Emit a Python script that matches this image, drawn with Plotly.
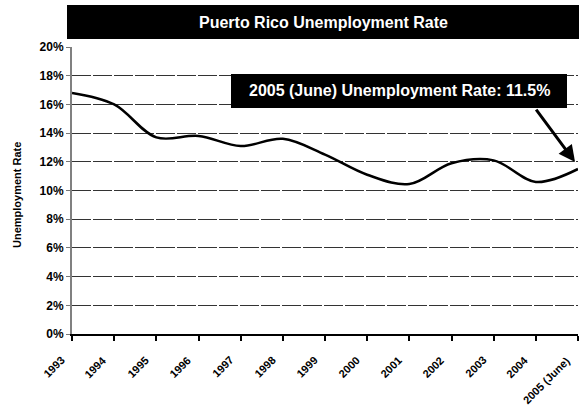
import plotly.graph_objects as go

# Puerto Rico unemployment rate, annual values (%)
years = ["1993", "1994", "1995", "1996", "1997", "1998", "1999",
         "2000", "2001", "2002", "2003", "2004", "2005 (June)"]
rates = [16.8, 16.0, 13.7, 13.8, 13.1, 13.6, 12.5,
         11.1, 10.45, 11.9, 12.1, 10.6, 11.5]

y_ticks = [0, 2, 4, 6, 8, 10, 12, 14, 16, 18, 20]
y_tick_labels = [f"{v}%" for v in y_ticks]

title_text = "Puerto Rico Unemployment Rate"
callout_text = f"{years[-1]} Unemployment Rate: {rates[-1]}%"

FONT = "Arial, Liberation Sans, sans-serif"

W, H = 581, 407
L, R, T, B = 72, 3, 47, 73
plot_w = W - L - R
plot_h = H - T - B


def px_x(p):
    return (p - L) / plot_w


def px_y(p):
    return (H - B - p) / plot_h


fig = go.Figure()
fig.add_trace(go.Scatter(
    x=list(range(len(years))),
    y=rates,
    mode="lines",
    line=dict(color="black", width=2.5, shape="spline", smoothing=1.0),
    hoverinfo="skip",
    showlegend=False,
))

# slanted category labels, top-right corner tucked just under each tick
x_label_annotations = [
    dict(text=f"<b>{name}</b>", xref="x", yref="paper",
         x=i, y=0, xshift=-4, yshift=-19,
         xanchor="right", yanchor="top", textangle=-45,
         showarrow=False, borderpad=0,
         font=dict(size=11, color="black", family=FONT))
    for i, name in enumerate(years)
]

fig.update_layout(
    width=W, height=H,
    margin=dict(l=L, r=R, t=T, b=B, autoexpand=False),
    paper_bgcolor="white",
    plot_bgcolor="white",
    font=dict(family=FONT, color="black"),
    xaxis=dict(
        range=[0, len(years) - 1],
        tickmode="array",
        tickvals=list(range(len(years))),
        showticklabels=False,
        ticks="outside", ticklen=5, tickcolor="black", tickwidth=1.5,
        showline=True, linecolor="black", linewidth=2,
        showgrid=False, zeroline=False,
        automargin=False,
    ),
    yaxis=dict(
        range=[0, 20],
        tickmode="array",
        tickvals=y_ticks,
        ticktext=y_tick_labels,
        tickfont=dict(size=12, family=FONT, weight="bold"),
        ticks="outside", ticklen=4, tickcolor="#777777", tickwidth=1,
        showline=True, linecolor="#808080", linewidth=2,
        showgrid=True, gridcolor="#333333", gridwidth=1.3,
        griddash="19px,2px",
        zeroline=False,
        automargin=False,
    ),
    shapes=[
        # title banner
        dict(type="rect", xref="paper", yref="paper",
             x0=px_x(67), x1=px_x(579), y0=px_y(39), y1=px_y(5),
             fillcolor="black", line=dict(width=0), layer="above"),
        # callout box
        dict(type="rect", xref="paper", yref="paper",
             x0=px_x(231), x1=px_x(567), y0=px_y(108), y1=px_y(74),
             fillcolor="black", line=dict(width=0), layer="above"),
    ],
    annotations=[
        dict(text=f"<b>{title_text}</b>", xref="paper", yref="paper",
             x=px_x(323), y=px_y(22), xanchor="center", yanchor="middle",
             showarrow=False, font=dict(size=16, color="white", family=FONT)),
        dict(text=f"<b>{callout_text}</b>", xref="paper", yref="paper",
             x=px_x(399), y=px_y(91), xanchor="center", yanchor="middle",
             showarrow=False, font=dict(size=16, color="white", family=FONT)),
        # arrow from the callout box to the last data point
        dict(text="", xref="x", yref="y",
             x=11.93, y=11.98, ax=-40, ay=-54, axref="pixel", ayref="pixel",
             showarrow=True, arrowhead=2, arrowsize=1.1, arrowwidth=3,
             arrowcolor="black"),
        dict(text="<b>Unemployment Rate</b>", xref="paper", yref="paper",
             x=px_x(17), y=px_y(195), xanchor="center", yanchor="middle",
             textangle=-90, showarrow=False,
             font=dict(size=11, color="black", family=FONT)),
    ] + x_label_annotations,
)

fig.write_html("out.html")
